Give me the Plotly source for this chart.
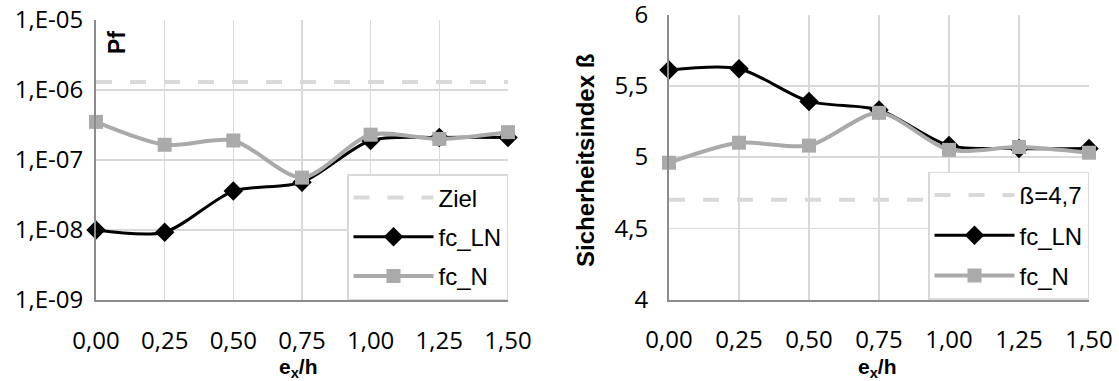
import plotly.graph_objects as go

# ---- data ----
ex_h = [0.00, 0.25, 0.50, 0.75, 1.00, 1.25, 1.50]
x_ticktext = ["0,00", "0,25", "0,50", "0,75", "1,00", "1,25", "1,50"]

pf_ziel = [1.3e-6] * 7
pf_fc_LN = [1.0e-8, 9.3e-9, 3.6e-8, 4.8e-8, 1.9e-7, 2.1e-7, 2.1e-7]
pf_fc_N = [3.5e-7, 1.65e-7, 1.9e-7, 5.6e-8, 2.3e-7, 2.0e-7, 2.5e-7]
pf_tickvals = [1e-9, 1e-8, 1e-7, 1e-6, 1e-5]
pf_ticktext = ["1,E-09", "1,E-08", "1,E-07", "1,E-06", "1,E-05"]

beta_target = [4.7] * 7
beta_fc_LN = [5.61, 5.62, 5.39, 5.33, 5.08, 5.06, 5.06]
beta_fc_N = [4.96, 5.10, 5.08, 5.31, 5.05, 5.07, 5.03]
beta_tickvals = [4, 4.5, 5, 5.5, 6]
beta_ticktext = ["4", "4,5", "5", "5,5", "6"]

# ---- styles ----
W, H = 1119, 381
GRID = "#d9d9d9"
AXL = "#8c8c8c"
TICKFONT = dict(family="Open Sans, Liberation Sans, Arial", size=24, color="#000000")
LEGFONT = dict(family="Liberation Sans, Arial", size=24, color="#000000")
BOLD = "Liberation Sans, Arial"
GRAY = "#aaaaaa"

def px_x(p):
    return p / W

def px_y(p):
    return 1 - p / H

fig = go.Figure()

def add_series(xa, ya, leg, ziel, ziel_name, ln, n):
    fig.add_trace(go.Scatter(x=ex_h, y=ziel, name=ziel_name, mode="lines",
                             line=dict(color=GRID, width=4, dash="16px,18px"),
                             xaxis=xa, yaxis=ya, legend=leg, legendgroup=leg + "a",
                             cliponaxis=False, hoverinfo="skip"))
    fig.add_trace(go.Scatter(x=ex_h, y=ln, name="fc_LN", mode="lines+markers",
                             line=dict(color="#000000", width=3, shape="spline", smoothing=0.8),
                             marker=dict(symbol="diamond", size=15, color="#000000"),
                             xaxis=xa, yaxis=ya, legend=leg, legendgroup=leg + "b",
                             cliponaxis=False, hoverinfo="skip"))
    fig.add_trace(go.Scatter(x=ex_h, y=n, name="fc_N", mode="lines+markers",
                             line=dict(color=GRAY, width=4, shape="spline", smoothing=0.8),
                             marker=dict(symbol="square", size=14, color=GRAY),
                             xaxis=xa, yaxis=ya, legend=leg, legendgroup=leg + "c",
                             cliponaxis=False, hoverinfo="skip"))

add_series("x", "y", "legend", pf_ziel, "Ziel", pf_fc_LN, pf_fc_N)
add_series("x2", "y2", "legend2", beta_target, "ß=4,7", beta_fc_LN, beta_fc_N)

xcommon = dict(tickvals=ex_h, ticktext=x_ticktext, range=[0, 1.5001], showgrid=True,
               gridcolor=GRID, gridwidth=1.5, showline=True, linecolor=AXL, linewidth=2,
               ticks="", tickfont=TICKFONT, ticklabelstandoff=18, zeroline=False,
               automargin=False, fixedrange=True, ticklabeloverflow="allow")

L_plot = dict(x0=96, x1=508, y0=20, y1=300)
R_plot = dict(x0=669, x1=1089, y0=14.5, y1=299.5)

fig.update_layout(
    width=W, height=H, autosize=False,
    margin=dict(l=0, r=0, t=0, b=0),
    paper_bgcolor="white", plot_bgcolor="white",
    hovermode=False,
    xaxis=dict(domain=[px_x(L_plot["x0"]), px_x(L_plot["x1"])], anchor="y", **xcommon),
    yaxis=dict(domain=[px_y(L_plot["y1"]), px_y(L_plot["y0"])], anchor="x", type="log",
               range=[-9, -4.9999], tickvals=pf_tickvals, ticktext=pf_ticktext,
               showgrid=True, gridcolor=GRID, gridwidth=1.5, showline=True, linecolor=AXL,
               linewidth=2, ticks="", tickfont=TICKFONT, ticklabelstandoff=6,
               zeroline=False, automargin=False, ticklabeloverflow="allow"),
    xaxis2=dict(domain=[px_x(R_plot["x0"]), px_x(R_plot["x1"])], anchor="y2", **xcommon),
    yaxis2=dict(domain=[px_y(R_plot["y1"]), px_y(R_plot["y0"])], anchor="x2",
                range=[4, 6.0001], tickvals=beta_tickvals, ticktext=beta_ticktext,
                showgrid=True, gridcolor=GRID, gridwidth=1.5, showline=True, linecolor=AXL,
                linewidth=2, ticks="", tickfont=TICKFONT, ticklabelstandoff=14,
                zeroline=False, automargin=False, ticklabeloverflow="allow"),
    legend=dict(x=px_x(508), y=px_y(300), xanchor="right", yanchor="bottom",
                bgcolor="white", bordercolor=GRID, borderwidth=1.5, font=LEGFONT,
                tracegroupgap=5, traceorder="grouped", itemwidth=80),
    legend2=dict(x=px_x(1089), y=px_y(299.5), xanchor="right", yanchor="bottom",
                 bgcolor="white", bordercolor=GRID, borderwidth=1.5, font=LEGFONT,
                 tracegroupgap=6, traceorder="grouped", itemwidth=80),
    showlegend=True,
)

annots = [
    dict(text="<b>Pf</b>", x=px_x(117), y=px_y(43), textangle=-90,
         font=dict(family=BOLD, size=23, color="#000000")),
    dict(text="<b>Sicherheitsindex ß</b>", x=px_x(585), y=px_y(161), textangle=-90,
         font=dict(family=BOLD, size=24, color="#000000")),
    dict(text="<b>e<sub>x</sub>/h</b>", x=px_x(299), y=px_y(368),
         font=dict(family=BOLD, size=21, color="#000000")),
    dict(text="<b>e<sub>x</sub>/h</b>", x=px_x(877), y=px_y(368),
         font=dict(family=BOLD, size=21, color="#000000")),
]
for a in annots:
    fig.add_annotation(xref="paper", yref="paper", showarrow=False,
                       xanchor="center", yanchor="middle", **a)

fig.write_html("out.html", config={"displayModeBar": False, "staticPlot": True},
               post_script="document.body.style.margin='0';document.body.style.overflow='hidden';")
